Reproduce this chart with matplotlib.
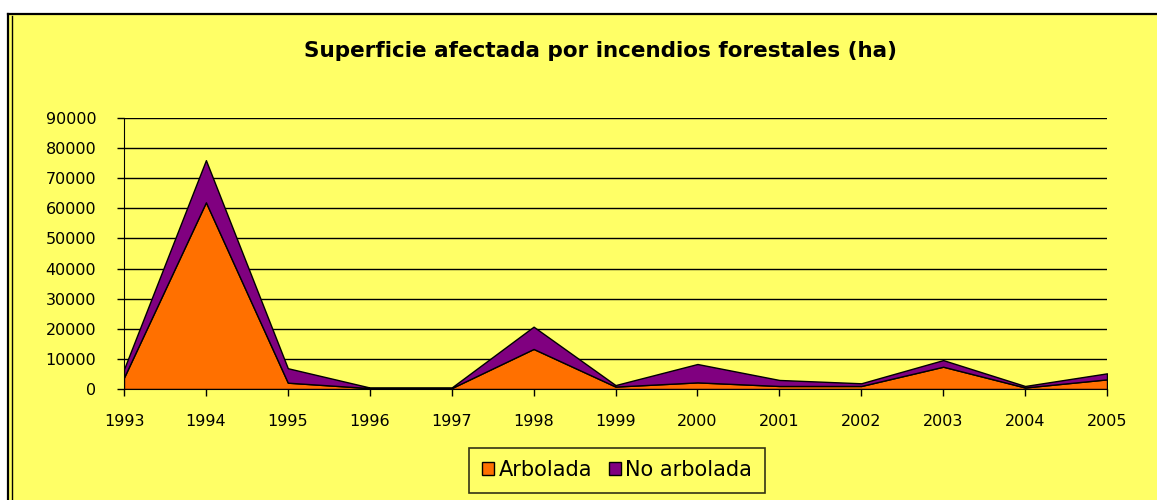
import matplotlib.pyplot as plt
from matplotlib.lines import Line2D
from matplotlib.patches import Rectangle

years = [1993, 1994, 1995, 1996, 1997, 1998, 1999, 2000, 2001, 2002, 2003, 2004, 2005]
arbolada = [3800, 62000, 2100, 300, 300, 13300, 800, 2200, 1000, 1000, 7400, 500, 3200]
no_arbolada = [2800, 14000, 4800, 200, 200, 7400, 500, 6100, 2000, 900, 2200, 500, 2000]
labels = ["Arbolada", "No arbolada"]
colors = ["#FF7000", "#800080"]

yellow = "#FFFF66"
plt.rcParams['font.family'] = ['DejaVu Sans']

fig = plt.figure(figsize=(11.57, 5), dpi=100, facecolor="white")

# yellow chart area with the double black border (left) and single top line
fig.add_artist(Rectangle((8 / 1157, 0), 1, 1 - 14 / 500, transform=fig.transFigure,
                         facecolor=yellow, edgecolor="none", zorder=0))
fig.add_artist(Line2D([8 / 1157, 1], [1 - 14 / 500] * 2, transform=fig.transFigure, color="black", lw=1.6))
fig.add_artist(Line2D([8 / 1157] * 2, [0, 1 - 14 / 500], transform=fig.transFigure, color="black", lw=1.6))
fig.add_artist(Line2D([11.5 / 1157] * 2, [0, 1 - 16 / 500], transform=fig.transFigure, color="black", lw=1.0))

ax = fig.add_axes([124 / 1157, 1 - 389 / 500, 983 / 1157, 271 / 500])
ax.set_facecolor(yellow)
ax.stackplot(years, arbolada, no_arbolada, colors=colors, labels=labels,
             edgecolor="black", linewidth=1.0, zorder=3)

ax.set_xlim(1993, 2005)
ax.set_ylim(0, 90000)
ax.set_xticks(years)
ax.set_yticks(range(0, 90001, 10000))
ax.yaxis.grid(True, color="black", lw=1.0)
ax.set_axisbelow(True)
for s in ["top", "right"]:
    ax.spines[s].set_visible(False)
ax.spines["left"].set_color("black")
ax.spines["bottom"].set_color("black")
ax.spines["bottom"].set_zorder(4)
ax.tick_params(axis="y", length=5, width=1, pad=15, labelsize=11.5)
ax.tick_params(axis="x", length=5, width=1, pad=13, labelsize=11.5)

fig.text(600 / 1157, 1 - 51 / 500, "Superficie afectada por incendios forestales (ha)",
         ha="center", va="center", fontsize=15.5, fontweight="bold")

leg = ax.legend(loc="center", bbox_to_anchor=(617 / 1157, 1 - 470 / 500),
                bbox_transform=fig.transFigure, ncol=2, fontsize=15,
                handlelength=0.6, handleheight=0.6, handletextpad=0.2,
                columnspacing=0.8, frameon=True, fancybox=False,
                borderpad=0.6)
leg.get_frame().set_edgecolor("black")
leg.get_frame().set_facecolor(yellow)
leg.get_frame().set_linewidth(1.2)

fig.savefig("out.png", dpi=100, facecolor="white")
